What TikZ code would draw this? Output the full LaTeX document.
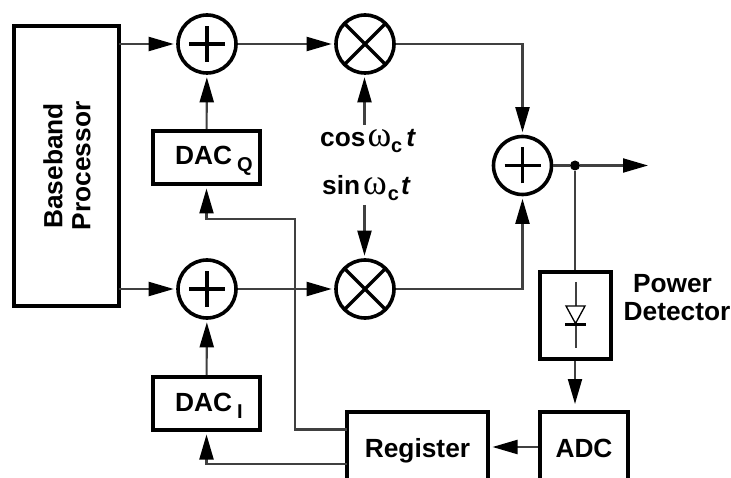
\documentclass[tikz,border=0pt]{standalone}
\usepackage{fontspec}
\setmainfont{Liberation Sans}
\newfontfamily\serifw{Liberation Serif}
\usetikzlibrary{arrows.meta,positioning,calc}
\definecolor{linec}{gray}{0.25}
\newcommand{\lbl}{\fontsize{26.3}{28}\selectfont\bfseries}
\newcommand{\sbl}{\fontsize{20}{20}\selectfont\bfseries}
\newcommand{\omg}{{\serifw\mdseries\fontsize{36}{36}\selectfont ω}}
\tikzset{
  conn/.style={draw=linec,line width=2.1pt},
  arrowc/.style={conn,-{Triangle[length=25pt,width=14pt,color=black]},shorten >=2.5pt},
  box/.style={draw=black,line width=4pt,rectangle,inner sep=0pt,fill=white,font=\lbl,text height=18pt,text depth=0pt,align=center},
  sumc/.style={draw=black,line width=3.6pt,circle,minimum size=58pt,inner sep=0pt,fill=white},
  adder/.style={sumc,path picture={\draw[line width=3.4pt,black]
     (path picture bounding box.center)+(-18pt,0)--+(18pt,0)
     (path picture bounding box.center)+(0,-18pt)--+(0,18pt);}},
  mixer/.style={sumc,path picture={\draw[line width=3.4pt,black]
     (path picture bounding box.center)+(-21pt,-21pt)--+(21pt,21pt)
     (path picture bounding box.center)+(-21pt,21pt)--+(21pt,-21pt);}},
  txt/.style={inner sep=0pt,font=\lbl,align=center},
}
\begin{document}
\begin{tikzpicture}[x=1pt,y=-1pt]
\useasboundingbox (0,0) rectangle (731,478);
\clip (0,0) rectangle (731,478);
% blocks
\node[box,minimum width=105pt,minimum height=280pt] (bb) at (66.5,166) {};
\node[txt,rotate=90] (bbt) at (67,166) {Baseband\\[0pt]Processor};
\node[adder] (a1) at (207,44) {};
\node[adder] (a2) at (207,289) {};
\node[mixer] (m1) at (365,44) {};
\node[mixer] (m2) at (365,289) {};
\node[adder] (a3) at (522.5,165.5) {};
\node[box,minimum width=107pt,minimum height=53pt,text depth=3pt] (dq) at (206.5,157.5) {\hspace*{15pt}DAC\hspace{5pt}\raisebox{-7pt}{\sbl Q}};
\node[box,minimum width=107pt,minimum height=53pt,text depth=3pt] (di) at (206.5,403.5) {\hspace*{5pt}DAC\hspace{5pt}\raisebox{-7pt}{\sbl I}};
\node[box,minimum width=141pt,minimum height=72pt] (reg) at (417.5,448) {Register};
\node[box,minimum width=88pt,minimum height=72pt] (adc) at (584,448) {ADC};
\node[box,minimum width=71pt,minimum height=87pt] (pd) at (575.5,315.5) {};
\node[txt] (pdt) at (677,298) {\hspace*{-9pt}Power\\Detector};
% carrier labels
\node[inner sep=0pt,anchor=base west,font=\lbl] (cosl) at (320,147) {cos\hspace{2pt}\omg\hspace{0pt}\raisebox{-6pt}{\sbl c}\hspace{4pt}\textit{t}};
\node[inner sep=0pt,anchor=base west,font=\lbl] (sinl) at (322,195) {sin\hspace{3pt}\omg\hspace{1pt}\raisebox{-6pt}{\sbl c}\hspace{2pt}\textit{t}};
% junction + free ends
\node[circle,fill=black,inner sep=0pt,minimum size=10pt] (j) at (575,165.5) {};
\coordinate (out) at (648,165.5);
\coordinate (cosend) at (364.5,125);
\coordinate (sinend) at (364.5,205);
\coordinate (bq) at (119,44);
\coordinate (bi) at (119,289);
\coordinate (regq) at (347,429.5);
\coordinate (regi) at (347,464);
\coordinate (rq1) at (295,429.5);
\coordinate (rq2) at (295,219);
\coordinate (rq3) at (206.5,219);
\coordinate (ri1) at (206.5,464);
% connectors
\draw[arrowc] (bq) -- (a1);
\draw[arrowc] (bi) -- (a2);
\draw[arrowc] (a1) -- (m1);
\draw[arrowc] (a2) -- (m2);
\draw[arrowc] (dq) -- (a1);
\draw[arrowc] (di) -- (a2);
\draw[arrowc] (cosend) -- (m1.south -| cosend);
\draw[arrowc] (sinend) -- (m2.north -| sinend);
\draw[arrowc] (m1) -| (a3);
\draw[arrowc] (m2) -| (a3);
\draw[conn] (a3) -- (j);
\draw[arrowc,shorten >=0pt] (j) -- (out);
\draw[conn] (j) -- (pd.north -| j);
\draw[arrowc,shorten >=6pt] (pd.south -| j) -- (adc.north -| j);
\draw[arrowc] (adc.west |- 0,447) -- (reg.east |- 0,447);
\draw[arrowc] (regq) -- (rq1) -- (rq2) -- (rq3) -- (dq.south);
\draw[arrowc] (regi) -- (ri1) -- (di.south);
% diode
\coordinate (da) at (575.5,282);
\coordinate (db) at (575.5,348);
\draw[line width=2pt,linec] (da) -- (db);
\draw[line width=1.3pt,black,fill=white] (566,306) -- (585,306) -- (575.5,323.5) -- cycle;
\draw[line width=3pt,black] (565,325) -- (586,325);
\end{tikzpicture}
\end{document}
